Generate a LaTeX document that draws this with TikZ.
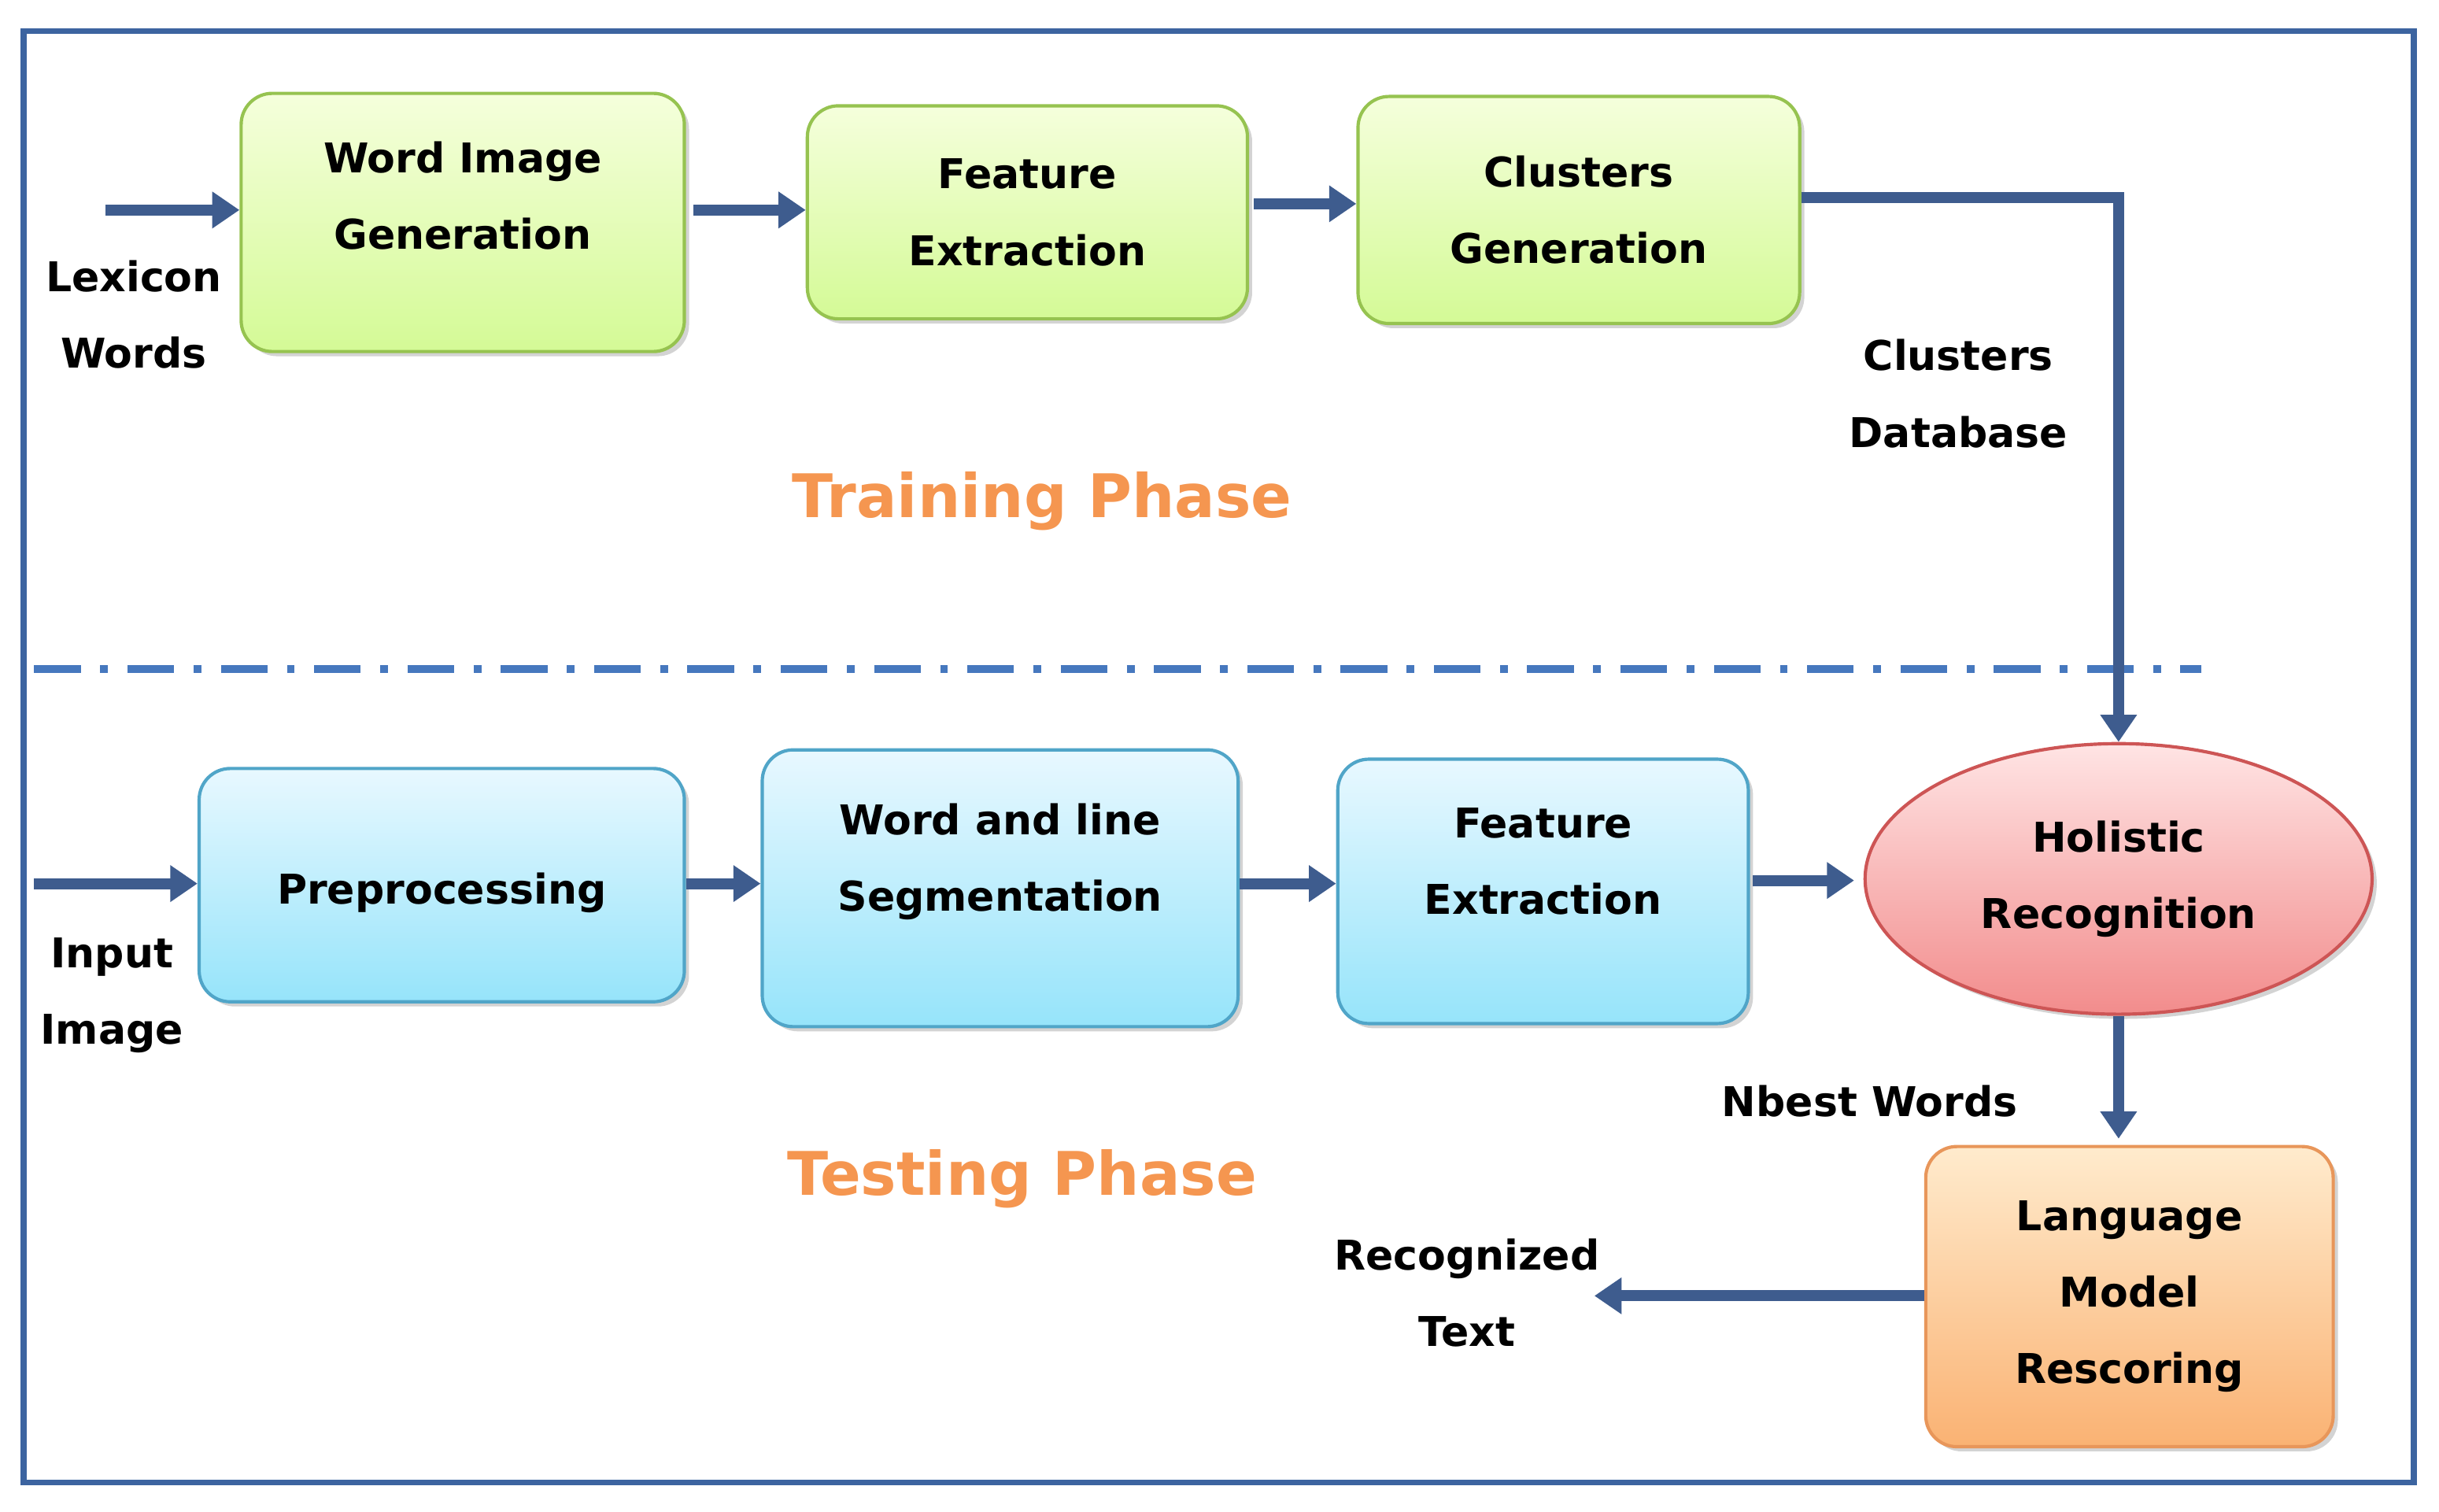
\documentclass[tikz,border=0pt]{standalone}
\usepackage{fontspec}
\setmainfont{DejaVu Sans}
\usetikzlibrary{arrows.meta,shapes.geometric,shadows}
\definecolor{frm}{RGB}{60,100,160}
\definecolor{arr}{RGB}{62,92,142}
\definecolor{dsh}{RGB}{70,120,190}
\definecolor{org}{RGB}{245,150,80}
\begin{document}
\begin{tikzpicture}[x=0.02cm,y=-0.02cm,
  txt/.style={font=\fontsize{15}{28}\selectfont\bfseries,align=center,text=black},
  box/.style={txt,draw,line width=1.2pt,rounded corners=0.4cm,drop shadow={shadow xshift=0.06cm,shadow yshift=-0.06cm,opacity=0.35}},
  gbox/.style={box,draw={rgb,255:red,150;green,195;blue,80},top color={rgb,255:red,245;green,255;blue,220},bottom color={rgb,255:red,212;green,250;blue,150}},
  bbox/.style={box,draw={rgb,255:red,80;green,165;blue,200},top color={rgb,255:red,232;green,248;blue,255},bottom color={rgb,255:red,150;green,228;blue,250}},
  ar/.style={draw=arr,line width=4pt,-{Triangle[length=0.35cm,width=0.45cm]}},
  phase/.style={font=\fontsize{22}{26}\selectfont\bfseries,text=org}]
\useasboundingbox (0,0) rectangle (1568,971.5);
\draw[frm,line width=0.08cm] (15,20) rectangle (1552,953);
\draw[dsh,line width=0.1cm,dash pattern=on 0.6cm off 0.25cm on 0.1cm off 0.25cm] (22,430) -- (1415,430);

\node[gbox,minimum width=5.7cm,minimum height=3.32cm,text height=0.7cm] (wig) at (297.5,143) {Word Image\\Generation};
\node[gbox,minimum width=5.66cm,minimum height=2.74cm] (fe1) at (660.5,136.5) {Feature\\Extraction};
\node[gbox,minimum width=5.68cm,minimum height=2.92cm] (cg) at (1015,135) {Clusters\\Generation};

\node[bbox,minimum width=6.24cm,minimum height=3.0cm,text height=0.6cm] (pre) at (284,569) {Preprocessing};
\node[bbox,minimum width=6.12cm,minimum height=3.56cm,text height=0.7cm] (wls) at (643,571) {Word and line\\Segmentation};
\node[bbox,minimum width=5.28cm,minimum height=3.4cm,text height=0.6cm] (fe2) at (992,573) {Feature\\Extraction};
\node[txt,ellipse,draw={rgb,255:red,205;green,85;blue,85},line width=1.2pt,top color={rgb,255:red,255;green,228;blue,228},bottom color={rgb,255:red,242;green,140;blue,140},minimum width=6.52cm,minimum height=3.48cm,inner sep=0pt,drop shadow={shadow xshift=0.06cm,shadow yshift=-0.06cm,opacity=0.35}] (hr) at (1362,565) {Holistic\\Recognition};
\node[box,draw={rgb,255:red,232;green,150;blue,90},top color={rgb,255:red,255;green,235;blue,205},bottom color={rgb,255:red,250;green,178;blue,115},minimum width=5.24cm,minimum height=3.86cm] (lm) at (1369,833.5) {Language\\Model\\Rescoring};

\coordinate (lw) at (68,135);
\coordinate (ii) at (22,568);
\coordinate (rt) at (1025,833);
\coordinate (cgc) at (1362,127);

\draw[ar] (lw) -- (wig.west|-lw);
\draw[ar] (446,135) -- (fe1.west|-0,135);
\draw[ar] (806,131) -- (cg.west|-0,131);
\draw[ar] (cg.east|-cgc) -- (cgc) -- (hr.north);
\draw[ar] (ii) -- (pre.west|-ii);
\draw[ar] (pre.east|-0,568) -- (wls.west|-0,568);
\draw[ar] (wls.east|-0,568) -- (fe2.west|-0,568);
\draw[ar] (1127,566) -- (1192,566);
\draw[ar] (hr.south) -- (1362,732);
\draw[ar] (lm.west|-rt) -- (rt);

\node[txt] (l1) at (86,202) {Lexicon\\Words};
\node[txt] (l2) at (1259,253) {Clusters\\Database};
\node[txt] (l3) at (72,640) {Input\\Image};
\node[txt] (l4) at (1202,708) {Nbest Words};
\node[txt] (l5) at (943,831) {Recognized\\Text};
\node[phase] (p1) at (670,322) {Training Phase};
\node[phase] (p2) at (657,758) {Testing Phase};
\end{tikzpicture}
\end{document}
